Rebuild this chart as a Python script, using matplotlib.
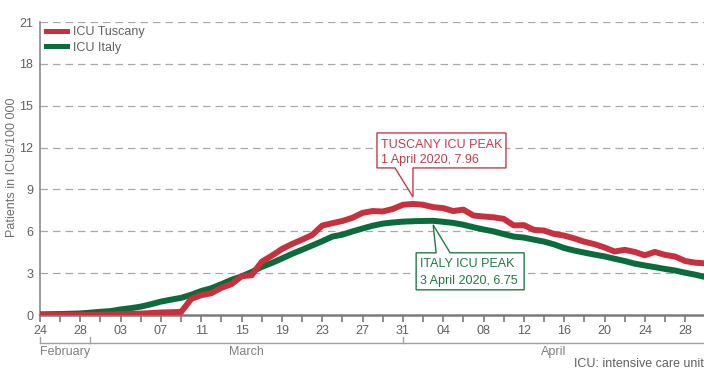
import matplotlib
matplotlib.use("Agg")
import matplotlib.pyplot as plt
from matplotlib.patches import Polygon
from matplotlib.lines import Line2D
import matplotlib.transforms as mtransforms

# ICU occupancy per 100 000 inhabitants, one value per day from 24 Feb to 30 Apr 2020
tuscany = [0.0, 0.0, 0.0, 0.0, 0.0, 0.0, 0.02, 0.03, 0.05, 0.08,
           0.10, 0.14, 0.18, 0.20, 0.22, 1.15, 1.42, 1.56, 1.95, 2.21,
           2.78, 2.85, 3.82, 4.25, 4.73, 5.09, 5.40, 5.74, 6.41, 6.58,
           6.74, 6.97, 7.32, 7.45, 7.42, 7.60, 7.90, 7.96, 7.90, 7.73,
           7.66, 7.45, 7.55, 7.13, 7.06, 7.00, 6.89, 6.42, 6.44, 6.10,
           6.05, 5.81, 5.69, 5.49, 5.25, 5.08, 4.84, 4.55, 4.67, 4.52,
           4.28, 4.52, 4.31, 4.19, 3.87, 3.75, 3.70]
italy = [0.05, 0.06, 0.07, 0.09, 0.11, 0.17, 0.23, 0.28, 0.40, 0.49,
         0.60, 0.77, 0.96, 1.10, 1.23, 1.45, 1.72, 1.92, 2.21, 2.52,
         2.77, 3.08, 3.45, 3.73, 4.05, 4.38, 4.68, 4.98, 5.29, 5.62,
         5.76, 5.99, 6.20, 6.40, 6.55, 6.63, 6.69, 6.72, 6.74, 6.75,
         6.68, 6.60, 6.47, 6.29, 6.13, 5.99, 5.80, 5.62, 5.55, 5.40,
         5.26, 5.06, 4.80, 4.62, 4.47, 4.33, 4.20, 4.03, 3.87, 3.68,
         3.55, 3.43, 3.30, 3.19, 3.03, 2.89, 2.72]
days = list(range(len(tuscany)))

day_labels = ["24", "28", "03", "07", "11", "15", "19", "23", "27",
              "31", "04", "08", "12", "16", "20", "24", "28"]
months = ["February", "March", "April"]
month_edges = [0, 5, 36, 65.87]

tus_peak_day, tus_peak_val = 37, 7.96
ita_peak_day, ita_peak_val = 39, 6.75

RED = "#c8303e"
GREEN = "#0b6b3a"
GREY_TXT = "#606060"
GREY_LINE = "#8a8a8a"
FS = 9

plt.rcParams["font.family"] = ["Liberation Sans", "DejaVu Sans"]

fig = plt.figure(figsize=(7.04, 3.71), dpi=100)
ax = fig.add_axes([40 / 704, 56 / 371, 664 / 704, 293 / 371])
ax.set_xlim(0, 65.87)
ax.set_ylim(0, 21)

# grid and axes
yt = list(range(0, 22, 3))
ax.set_yticks(yt)
ax.set_yticklabels([str(v) for v in yt], fontsize=FS, color=GREY_TXT)
for v in yt[1:]:
    ax.axhline(v, color="#a8a8a8", lw=0.9, ls=(0, (6, 4)), zorder=1)
ax.tick_params(axis="y", length=0, pad=5)
for s in ("top", "right"):
    ax.spines[s].set_visible(False)
ax.spines["left"].set_color(GREY_LINE)
ax.spines["left"].set_linewidth(1.2)
ax.spines["bottom"].set_color("#7a7a7a")
ax.spines["bottom"].set_linewidth(1.8)

ax.set_xticks(range(0, 66, 4))
ax.set_xticklabels(day_labels, fontsize=FS, color=GREY_TXT)
ax.set_xticks(range(0, 66, 2), minor=True)
ax.tick_params(axis="x", which="both", length=5, width=1.2, color="#7a7a7a", pad=2)

ax.set_ylabel("Patients in ICUs/100 000", fontsize=FS, color="#707070")
ax.yaxis.set_label_coords(-0.033, 0.503)

# month band below the day axis
band = mtransforms.blended_transform_factory(ax.transData, ax.transAxes)
y_band = -0.0956
ax.plot([month_edges[0], month_edges[-1]], [y_band, y_band], transform=band,
        color="#a0a0a0", lw=1.0, clip_on=False)
for e in month_edges[:-1]:
    ax.plot([e, e], [y_band, y_band + 0.022], transform=band,
            color="#a0a0a0", lw=1.0, clip_on=False)
for i, m in enumerate(months):
    ax.text((month_edges[i] + month_edges[i + 1]) / 2, -0.126, m,
            transform=band, ha="center", va="center", fontsize=FS,
            color="#808080")

fig.text(1.0, 1 / 371, "ICU: intensive care unit", ha="right", va="bottom",
         fontsize=FS, color=GREY_TXT)

# series
ax.plot(days, italy, color=GREEN, lw=4.3, solid_capstyle="butt", zorder=3)
ax.plot(days, tuscany, color=RED, lw=4.3, solid_capstyle="butt", zorder=4)

handles = [Line2D([], [], color=RED, lw=3.6), Line2D([], [], color=GREEN, lw=3.6)]
ax.legend(handles, ["ICU Tuscany", "ICU Italy"], loc="upper left",
          bbox_to_anchor=(0.009, 0.985), frameon=False, fontsize=FS,
          handlelength=1.65, handletextpad=0.55, labelspacing=0.25,
          borderpad=0, borderaxespad=0, labelcolor=GREY_TXT)


def callout(day, val, tip_dy, box, base, lines, color):
    """Draw a white box with a wedge pointing at (day, val); sizes in pixels."""
    tx, ty = ax.transData.transform((day, val))
    ty += tip_dy
    x0, x1, y0, y1 = box          # box edges relative to tip (y up)
    b0, b1 = base                 # wedge base on the box edge facing the tip
    if y0 > 0:
        pts = [(x0, y0), (b0, y0), (0, 0), (b1, y0), (x1, y0), (x1, y1), (x0, y1)]
    else:
        pts = [(x0, y1), (b0, y1), (0, 0), (b1, y1), (x1, y1), (x1, y0), (x0, y0)]
    inv = ax.transData.inverted()
    data_pts = [inv.transform((tx + px, ty + py)) for px, py in pts]
    ax.add_patch(Polygon(data_pts, closed=True, facecolor="white",
                         edgecolor=color, lw=1.0, zorder=6, clip_on=False))
    for (lx, ly, s) in lines:
        p = inv.transform((tx + lx, ty + ly))
        ax.text(p[0], p[1], s, ha="left", va="center", fontsize=FS,
                color=color, zorder=7)


callout(tus_peak_day, tus_peak_val, 7, (-36, 93, 29, 64), (-18, 0),
        [(-32, 52, "TUSCANY ICU PEAK"),
         (-32, 37, f"1 April 2020, {tus_peak_val:.2f}")], "#c83a48")
callout(ita_peak_day, ita_peak_val, -4, (-17, 91, -65, -28), (3, 17),
        [(-13, -39, "ITALY ICU PEAK"),
         (-13, -56, f"3 April 2020, {ita_peak_val:.2f}")], "#1d7a47")

fig.savefig("out.png", dpi=100)
